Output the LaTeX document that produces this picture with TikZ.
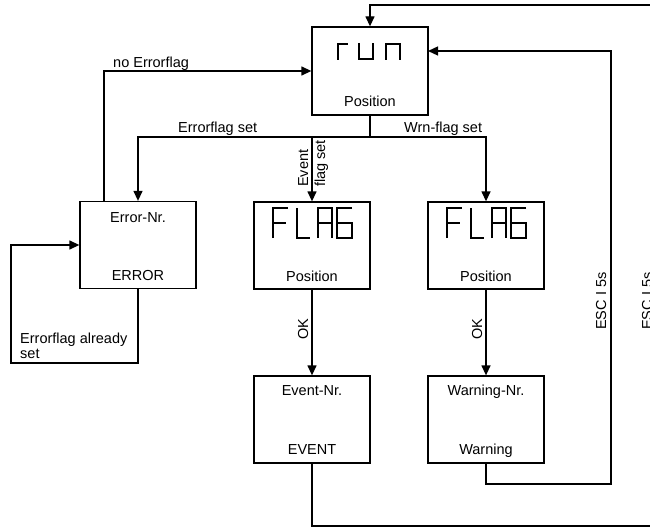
\documentclass[tikz,border=0pt]{standalone}
\usepackage{fontspec}
\setmainfont{Liberation Sans}
\usetikzlibrary{arrows.meta}
\begin{document}
\begin{tikzpicture}[x=1pt,y=-1pt,
  every node/.style={font=\fontsize{14.5}{17}\selectfont, inner sep=0pt},
  box/.style={draw, line width=1.3pt, minimum width=116pt, minimum height=87pt},
  conn/.style={line width=1.3pt},
  arr/.style={line width=1.3pt, -{Triangle[length=10pt,width=9pt]}},
  segthick/.style={line width=2.8pt, line cap=butt, line join=miter},
  segthin/.style={line width=1.5pt, line cap=butt, line join=miter},
  lbl/.style={anchor=base west},
  rlbl/.style={anchor=base west, rotate=90},
  btxt/.style={anchor=base}]
\useasboundingbox (0,0) rectangle (650,527);
% boxes
\node[box, minimum height=88pt] (run) at (370,71) {};
\node[box] (err) at (138,245) {};
\node[box] (flagE) at (312,245.5) {};
\node[box] (flagW) at (486,245.5) {};
\node[box] (evt) at (312,419.5) {};
\node[box] (wrn) at (486,419.5) {};
% box texts
\node[btxt] (runpos) at (370,106) {Position};
\node[btxt] (errnr) at (138,222) {Error-Nr.};
\node[btxt] (errtx) at (138,280) {ERROR};
\node[btxt] (fepos) at (312,281) {Position};
\node[btxt] (fwpos) at (486,281) {Position};
\node[btxt] (evnr) at (312,395) {Event-Nr.};
\node[btxt] (evtx) at (312,454) {EVENT};
\node[btxt] (wnnr) at (486,395) {Warning-Nr.};
\node[btxt] (wntx) at (486,454) {Warning};
% run display
\draw[segthick] (338,60) -- (338,44) -- (348,44);
\draw[segthick] (359,43) -- (359,59) -- (373,59) -- (373,43);
\draw[segthick] (386,60) -- (386,44) -- (400,44) -- (400,60);
% FLAG displays
\foreach \dx in {0,174}{
  \begin{scope}[xshift=\dx]
    \draw[segthin] (273,238) -- (273,208) -- (288,208);
    \draw[segthin] (273,223) -- (286,223);
    \draw[segthin] (297,208) -- (297,238) -- (310,238);
    \draw[segthin] (318,238) -- (318,208) -- (332,208) -- (332,238);
    \draw[segthin] (318,223) -- (332,223);
    \draw[segthin] (352,208) -- (337,208) -- (337,238) -- (352,238) -- (352,223) -- (337,223);
  \end{scope}
}
% helper coordinates
\coordinate (busY) at (0,137);
\coordinate (topY) at (0,5);
\coordinate (botY) at (0,526);
\coordinate (outX) at (657,0);
\coordinate (escX) at (611,0);
\coordinate (wrnY) at (0,484);
\coordinate (runR) at (428,51);
\coordinate (lpY) at (0,363);
\coordinate (lpX) at (11,0);
\coordinate (noX) at (104,0);
% connectors
\draw[conn] (run.south) -- (run.south |- busY);
\draw[arr] (run.south |- busY) -| (err.north);
\draw[arr] (run.south |- busY) -| (flagW.north);
\draw[arr] (flagE.north |- busY) -- (flagE.north);
\draw[arr] (err.north -| noX) |- (run.west);
\draw[arr] (err.south) -- (err.south |- lpY) -| (lpX |- err.west) -- (err.west);
\draw[arr] (flagE.south) -- (evt.north);
\draw[arr] (flagW.south) -- (wrn.north);
\draw[arr] (wrn.south) -- (wrn.south |- wrnY) -| (escX |- runR) -- (runR);
\draw[arr] (evt.south) -- (evt.south |- botY) -- (outX |- botY) -- (outX |- topY) -| (run.north);
% labels
\node[lbl] (lno) at (113,67) {no Errorflag};
\node[lbl] (lerr) at (178,132) {Errorflag set};
\node[lbl] (lwrn) at (404,132) {Wrn-flag set};
\node[rlbl] (lev1) at (308,187) {Event};
\node[rlbl] (lev2) at (325,187) {flag set};
\node[rlbl] (lok1) at (308,340) {OK};
\node[rlbl] (lok2) at (482,340) {OK};
\node[rlbl] (lesc1) at (606,330) {ESC I 5s};
\node[rlbl] (lesc2) at (652,330) {ESC I 5s};
\node[lbl] (lal1) at (20,343) {Errorflag already};
\node[lbl] (lal2) at (20,358) {set};
\end{tikzpicture}
\end{document}
